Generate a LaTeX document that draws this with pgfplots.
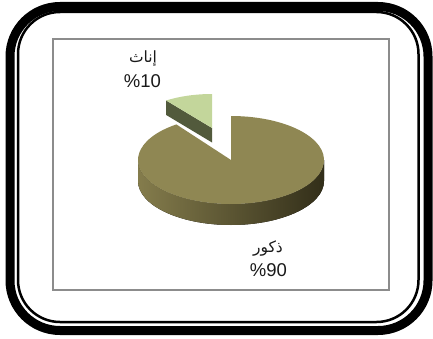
\documentclass[border=0pt]{standalone}
\usepackage{pgfplots}
\pgfplotsset{compat=1.18}
\usepackage{fontspec}
\setmainfont{Liberation Sans}
\newfontfamily\arabicfont[Script=Arabic]{DejaVu Sans}
\TeXXeTstate=1
\definecolor{olivetop}{RGB}{143,135,83}
\definecolor{sideL}{RGB}{132,124,76}
\definecolor{sideM}{RGB}{100,93,55}
\definecolor{sideR}{RGB}{50,46,25}
\definecolor{smalltop}{RGB}{195,214,155}
\definecolor{smallside}{RGB}{82,90,60}
\definecolor{framegray}{RGB}{140,140,140}
\definecolor{txt}{RGB}{25,25,25}
\begin{document}
\begin{tikzpicture}
\path[use as bounding box] (0,0) rectangle (433pt,338pt);
% data: shares in percent
\def\vMale{90}
\def\vFemale{10}
\pgfmathsetmacro\aStart{90}
\pgfmathsetmacro\aMid{90+360*\vFemale/100}
\pgfmathsetmacro\aEnd{90+360}
\begin{axis}[at={(0,0)}, anchor=south west, scale only axis,
  width=433pt, height=338pt, xmin=0, xmax=433, ymin=0, ymax=338,
  hide axis, clip=false]
% outer frames
\draw[line width=9pt, rounded corners=50pt] (10,7.5) rectangle (428,331.5);
\draw[line width=2.5pt, rounded corners=42pt] (18,16) rectangle (418.5,326);
% plot area
\draw[framegray, line width=1.3pt] (53,48) rectangle (389,299);
% small (exploded) slice: female
\fill[smallside] (212,210) -- ++(\aMid:78pt and 34pt) -- ++(0,-14.5) -- (212,195.5) -- cycle;
\fill[smalltop] (212,210) -- ++(\aStart:78pt and 34pt) arc[start angle=\aStart, end angle=\aMid, x radius=78pt, y radius=34pt] -- cycle;
% big slice: male, side
\fill[left color=sideL, middle color=sideM, right color=sideR]
  (138,178) arc[start angle=180, end angle=360, x radius=93pt, y radius=44pt]
  -- (324,157) arc[start angle=360, end angle=180, x radius=93pt, y radius=44pt] -- cycle;
% big slice top
\fill[olivetop] (231,178) -- ++(\aMid:93pt and 44pt) arc[start angle=\aMid, end angle=\aEnd, x radius=93pt, y radius=44pt] -- cycle;
% labels
\node[txt, font=\arabicfont\fontsize{15.5}{17}\selectfont] at (143,279) {\beginR إناث\endR};
\node[txt, font=\fontsize{18.5}{20}\selectfont] at (142.5,256.5) {\%10};
\node[txt, font=\arabicfont\fontsize{15.5}{17}\selectfont] at (268,89.5) {\beginR ذكور\endR};
\node[txt, font=\fontsize{18.5}{20}\selectfont] at (268.5,67.5) {\%90};
\end{axis}
\end{tikzpicture}
\end{document}
